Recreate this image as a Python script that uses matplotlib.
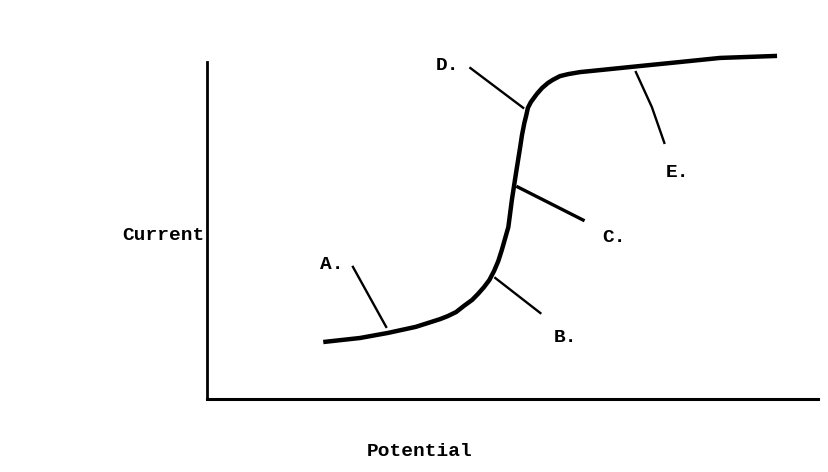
import numpy as np
import matplotlib.pyplot as plt

plt.rcParams['font.family'] = ['Liberation Mono', 'DejaVu Sans Mono']

# curve (arbitrary units)
potential = [19.6, 25.8, 30.5, 35.2, 39.3, 40.6, 42.0, 43.3, 44.7, 45.7, 46.7,
             47.6, 48.4, 49.1, 49.7, 50.8, 51.4, 52.1, 52.8, 53.1, 53.5, 53.8,
             54.1, 54.6, 55.6, 56.5, 57.5, 58.3, 59.5, 60.9, 62.9, 66.3, 73.0,
             79.8, 86.5, 96.1]
current = [16.9, 18.1, 19.6, 21.4, 23.7, 24.6, 25.8, 27.6, 29.4, 31.2, 33.2,
           35.3, 38.0, 40.9, 44.2, 51.0, 59.1, 67.1, 74.8, 78.3, 81.9, 84.0,
           86.4, 88.1, 90.5, 92.3, 93.8, 94.7, 95.8, 96.4, 97.0, 97.6, 98.8,
           100.0, 101.2, 101.8]

# labels and their leader lines
labels = ['A.', 'B.', 'C.', 'D.', 'E.']
label_x = [21.0, 60.5, 68.6, 40.6, 79.4]
label_y = [39.8, 18.1, 47.8, 99.1, 67.1]
leader_x = [[24.6, 30.2], [48.6, 56.2], [52.4, 63.4], [44.4, 53.3], [72.3, 75.0, 77.1]]
leader_y = [[39.2, 21.4], [35.9, 25.5], [62.9, 53.1], [98.2, 86.4], [97.0, 86.6, 76.0]]

fig = plt.figure(figsize=(8.29, 4.72), dpi=100)
ax = fig.add_axes([0.2497, 0.1547, 0.737, 0.714])

ax.plot(potential, current, color='black', lw=3.2, solid_capstyle='butt',
        solid_joinstyle='round', clip_on=False)

for i in range(len(labels)):
    lw = 2.4 if labels[i] == 'C.' else 1.7
    ax.plot(leader_x[i], leader_y[i], color='black', lw=lw, clip_on=False)
    ax.text(label_x[i], label_y[i], labels[i], fontsize=14, fontweight='bold',
            ha='center', va='center')

ax.text(-7.3, 48.4, 'Current', fontsize=14, fontweight='bold', ha='center', va='center')
ax.text(35.9, -15.7, 'Potential', fontsize=14, fontweight='bold', ha='center', va='center')

ax.set_xlim(0, 103)
ax.set_ylim(0, 100)
ax.spines['top'].set_visible(False)
ax.spines['right'].set_visible(False)
ax.spines['left'].set_linewidth(2)
ax.spines['bottom'].set_linewidth(2.2)
ax.set_xticks([])
ax.set_yticks([])

fig.savefig('out.png', dpi=100)
